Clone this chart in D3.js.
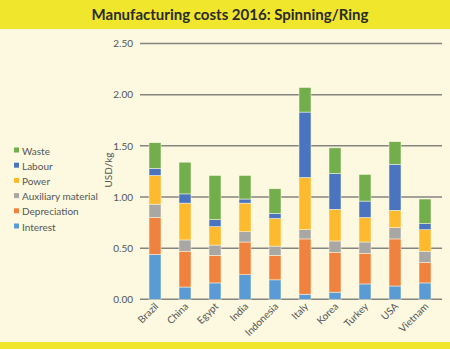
<!DOCTYPE html>
<html>
<head>
<meta charset="utf-8">
<script src="https://cdn.jsdelivr.net/npm/d3@7"></script>
<style>
  body { margin: 0; background: #fcf9e0; }
  svg { display: block; font-family: Lato, "Open Sans", sans-serif; }
</style>
</head>
<body>
<div id="plot"></div>
<script>

var countries = ["Brazil", "China", "Egypt", "India", "Indonesia", "Italy", "Korea", "Turkey", "USA", "Vietnam"];

// cost components, bottom to top
var interest     = [0.44, 0.12, 0.16, 0.24, 0.19, 0.05, 0.07, 0.15, 0.13, 0.16];
var depreciation = [0.36, 0.35, 0.27, 0.32, 0.24, 0.54, 0.39, 0.30, 0.46, 0.20];
var auxiliary    = [0.13, 0.11, 0.10, 0.10, 0.09, 0.09, 0.11, 0.11, 0.11, 0.11];
var power        = [0.28, 0.36, 0.18, 0.28, 0.27, 0.51, 0.31, 0.24, 0.17, 0.21];
var labour       = [0.07, 0.09, 0.07, 0.04, 0.05, 0.64, 0.35, 0.16, 0.45, 0.06];
var waste        = [0.25, 0.31, 0.43, 0.23, 0.24, 0.24, 0.25, 0.26, 0.22, 0.24];

var yTicks = [0, 0.5, 1, 1.5, 2, 2.5];

var series = [
  { name: "Interest", values: interest, color: "#5b9bd5" },
  { name: "Depreciation", values: depreciation, color: "#f08240" },
  { name: "Auxiliary material", values: auxiliary, color: "#a8a7a3" },
  { name: "Power", values: power, color: "#fdba2e" },
  { name: "Labour", values: labour, color: "#4a74c0" },
  { name: "Waste", values: waste, color: "#72ae4c" }
];

var width = 450, height = 349;

var svg = d3.select("#plot")
	.append("svg")
	.attr("width", width)
	.attr("height", height);

svg.append("rect")
	.attr("width", width)
	.attr("height", height)
	.attr("fill", "#fcf9e0");

// yellow bands
svg.append("rect")
	.attr("width", width)
	.attr("height", 29)
	.attr("fill", "#f0e62c");

svg.append("rect")
	.attr("y", 342)
	.attr("width", width)
	.attr("height", 7)
	.attr("fill", "#f0e62c");

svg.append("text")
	.text("Manufacturing costs 2016: Spinning/Ring")
	.attr("x", 230)
	.attr("y", 20)
	.attr("text-anchor", "middle")
	.attr("font-size", 15)
	.attr("font-weight", "bold")
	.attr("fill", "#2b2b2b");

var x = d3.scaleBand()
	.domain(countries)
	.range([140, 440])
	.paddingInner(0.6)
	.paddingOuter(0.3);

var y = d3.scaleLinear()
	.domain([0, 2.5])
	.range([299.3, 43.5]);

// gridlines
svg.append("g")
	.selectAll("line")
	.data(yTicks)
	.join("line")
	.attr("x1", 140)
	.attr("x2", 442)
	.attr("y1", function(d) { return y(d); })
	.attr("y2", function(d) { return y(d); })
	.style("stroke", "#858580")
	.style("stroke-width", 1.5);

var yAxis = svg.append("g")
	.attr("transform", "translate(140,0)")
	.call(d3.axisLeft(y).tickValues(yTicks).tickFormat(d3.format(".2f")).tickSize(0).tickPadding(7));
yAxis.select(".domain").remove();
yAxis.selectAll("text")
	.attr("font-size", 10)
	.attr("font-family", "Lato, sans-serif")
	.attr("fill", "#555");

svg.append("text")
	.text("USD/kg")
	.attr("transform", "translate(112,170) rotate(-90)")
	.attr("text-anchor", "middle")
	.attr("font-size", 10)
	.attr("fill", "#555");

var stack = d3.stack()
	.keys(series.map(function(s, i) { return i; }))
	.value(function(d, k) { return series[k].values[d]; });

var layers = stack(d3.range(countries.length));

svg.append("g")
	.selectAll("g")
	.data(layers)
	.join("g")
	.attr("fill", function(d) { return series[d.key].color; })
	.selectAll("rect")
	.data(function(d) { return d; })
	.join("rect")
	.attr("x", function(d) { return x(countries[d.data]); })
	.attr("width", x.bandwidth())
	.attr("y", function(d) { return y(d[1]); })
	.attr("height", function(d) { return y(d[0]) - y(d[1]); })
	.style("stroke", "#fcf9e0")
	.style("stroke-width", 0.5);

// category labels
svg.append("g")
	.selectAll("text")
	.data(countries)
	.join("text")
	.text(function(d) { return d; })
	.attr("transform", function(d) {
		return "translate(" + (x(d) + x.bandwidth() / 2 + 4) + ",307) rotate(-45)";
	})
	.attr("text-anchor", "end")
	.attr("font-size", 10)
	.attr("fill", "#555");

// legend, top entry is the last series
var legend = svg.append("g")
	.selectAll("g")
	.data(series.slice().reverse())
	.join("g")
	.attr("transform", function(d, i) { return "translate(14," + (151 + i * 15.2) + ")"; });

legend.append("rect")
	.attr("y", -3.5)
	.attr("width", 5)
	.attr("height", 5)
	.attr("fill", function(d) { return d.color; });

legend.append("text")
	.text(function(d) { return d.name; })
	.attr("x", 8)
	.attr("y", 3.5)
	.attr("font-size", 10)
	.attr("fill", "#555");

</script>
</body>
</html>
